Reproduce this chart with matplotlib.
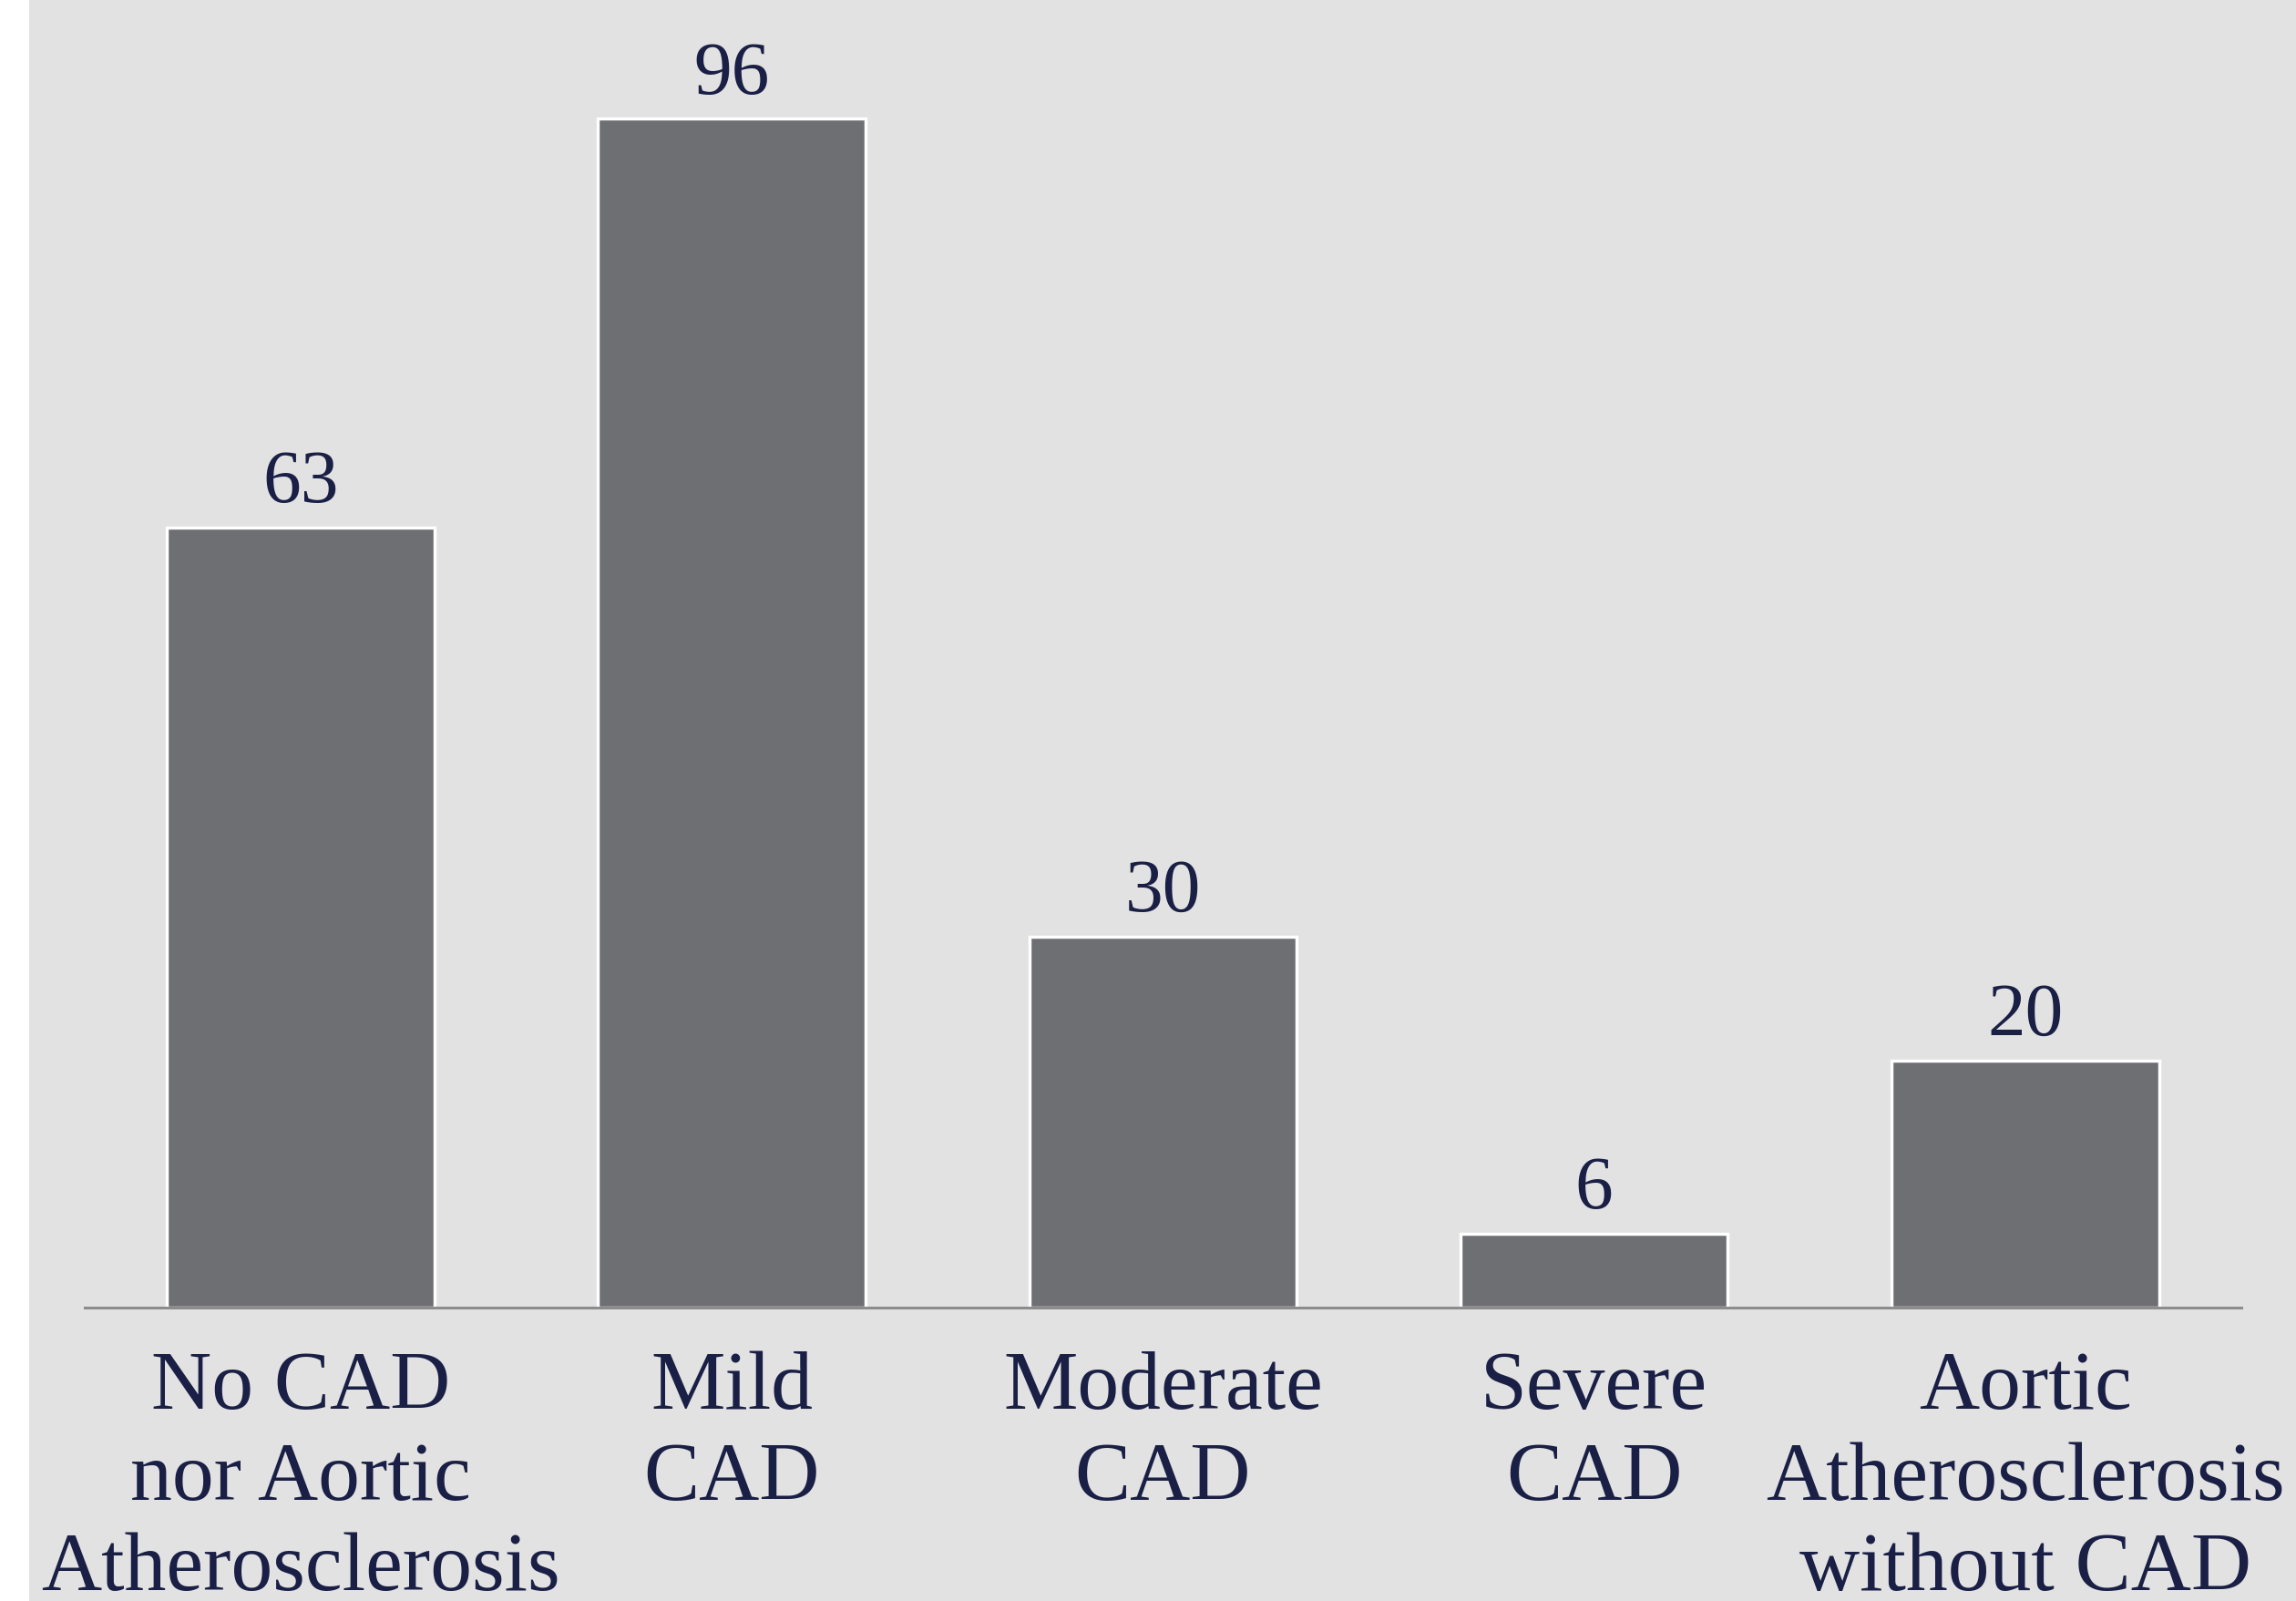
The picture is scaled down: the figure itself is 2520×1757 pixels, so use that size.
import matplotlib.pyplot as plt
from matplotlib.patches import Rectangle

# data
categories = ["No CAD\nnor Aortic\nAtherosclerosis", "Mild\nCAD", "Moderate\nCAD",
              "Severe\nCAD", "Aortic\nAtherosclerosis\nwithout CAD"]
counts = [63, 96, 30, 6, 20]

bg = '#e2e2e2'
bar_col = '#6e6f73'
txt_col = '#1a1f45'

plt.rcParams['font.family'] = ['Liberation Serif', 'DejaVu Serif']

fig = plt.figure(figsize=(25.2, 17.57), dpi=100)
fig.patch.set_facecolor(bg)
# white strip on the left edge
fig.patches.append(Rectangle((0, 0), 0.0128, 1, transform=fig.transFigure,
                             facecolor='white', edgecolor='none', zorder=0))

ax = fig.add_axes([0.037, 0.183, 0.939, 0.817])
ax.set_facecolor(bg)

x = range(len(categories))
bars = ax.bar(x, counts, width=0.62, color=bar_col, edgecolor='white', linewidth=2.5)

for b, v in zip(bars, counts):
    ax.annotate(str(v), (b.get_x() + b.get_width() / 2, v), xytext=(0, 7),
                textcoords='offset points', ha='center', va='bottom',
                fontsize=60, color=txt_col)

ax.set_xlim(-0.5, 4.5)
ax.set_ylim(0, 105.6)
ax.set_xticks(list(x))
ax.set_xticklabels(categories, fontsize=66, color=txt_col, linespacing=1.27)
ax.tick_params(axis='x', length=0, pad=34)
ax.set_yticks([])

for s in ['top', 'right', 'left']:
    ax.spines[s].set_visible(False)
ax.spines['bottom'].set_color('#8c8c8c')
ax.spines['bottom'].set_linewidth(2.2)

fig.savefig('out.png', dpi=100, facecolor=bg)
